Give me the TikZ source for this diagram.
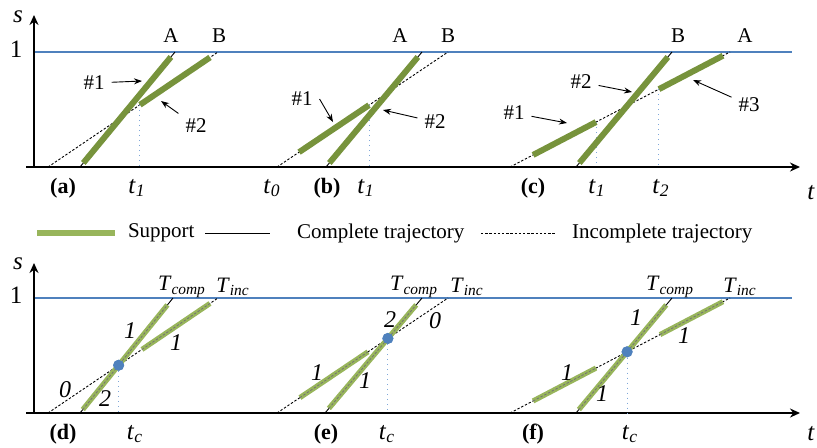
\documentclass[tikz,border=0pt]{standalone}
\usepackage{fontspec}
\setmainfont{Liberation Serif}
\usepackage{xcolor}
\usepackage{tikz}
\usetikzlibrary{arrows.meta, positioning, calc}

\definecolor{olive}{HTML}{77933C}
\definecolor{olivelt}{HTML}{98B55B}
\definecolor{guideblue}{HTML}{4F81BD}
\definecolor{dropblue}{HTML}{7FA7D8}

\newcommand{\tsym}[2]{\textit{#1}\textsubscript{\textit{#2}}}

\begin{document}
\begin{tikzpicture}[x=0.5pt, y=-0.5pt, >=Stealth, font=\fontsize{10.5}{12}\selectfont]
    \tikzset{
        axis/.style={draw, line width=1pt, -{Stealth[length=5pt, width=4.5pt]}},
        guide/.style={draw=guideblue, line width=0.6pt},
        comp/.style={draw, line width=0.45pt},
        incomp/.style={draw, line width=0.45pt, dash pattern=on 1.2pt off 0.9pt},
        support/.style={draw=olive, line width=3pt},
        supportlt/.style={draw=olivelt, line width=2.6pt, postaction={draw=black!55, line width=0.4pt, dash pattern=on 1.2pt off 0.9pt}},
        drop/.style={draw=dropblue, line width=0.5pt, dotted},
        callout/.style={draw, line width=0.45pt, -{Stealth[length=4pt, width=3pt]}},
        cross/.style={circle, fill=guideblue, inner sep=0pt, minimum size=5.5pt},
        tag/.style={font=\fontsize{11}{13}\selectfont\bfseries},
        big/.style={font=\fontsize{12.5}{14}\selectfont},
        num/.style={font=\fontsize{12}{14}\selectfont\itshape},
        traj/.style={font=\fontsize{11}{13}\selectfont}
    }
    \useasboundingbox (0,0) rectangle (817,447);

    % top row: axes and the level s = 1
    \coordinate (o1) at (34,167);
    \coordinate (x1s) at (26,167);
    \coordinate (x1e) at (800,167);
    \coordinate (y1e) at (34,15);
    \coordinate (g1s) at (35,52);
    \coordinate (g1e) at (792,52);
    \draw[guide] (g1s) -- (g1e);
    \draw[axis] (x1s) -- (x1e);
    \draw[axis] (o1) -- (y1e);
    \node[big] (s1) at (18,17) {\textit{s}};
    \node[big] (one1) at (16,49) {1};
    \node[big] (t1) at (811,193) {\textit{t}};

    % (a)
    \coordinate (aA0) at (80,167);  \coordinate (aA1) at (175,52);
    \coordinate (aB0) at (48,167);  \coordinate (aB1) at (218,52);
    \draw[comp] (aA0) -- (aA1);
    \draw[incomp] (aB0) -- (aB1);
    \coordinate (a2s) at ($(aB0)!0.541!(aB1)$);
    \draw[drop] (a2s) -- (a2s |- o1);
    \draw[support] ($(aA0)!0.035!(aA1)$) -- ($(aA0)!0.957!(aA1)$);
    \draw[support] (a2s) -- ($(aB0)!0.953!(aB1)$);
    \node (aA) at (171,36) {A};
    \node (aB) at (219,36) {B};
    \node (a1) at (94,83) {\#1};
    \node (a2) at (196,126) {\#2};
    \coordinate (a1h) at (142,81);
    \coordinate (a2h) at (161,101);
    \draw[callout] (a1) -- (a1h);
    \draw[callout] (a2) -- (a2h);
    \node[tag] (la) at (63,188) {(a)};
    \node[big] (at1) at (137,188) {\tsym{t}{1}};
    \node[big] (at0) at (272,188) {\tsym{t}{0}};

    % (b)
    \coordinate (bA0) at (326,167); \coordinate (bA1) at (422,52);
    \coordinate (bB0) at (277,167); \coordinate (bB1) at (448,52);
    \draw[comp] (bA0) -- (bA1);
    \draw[incomp] (bB0) -- (bB1);
    \coordinate (b1e) at ($(bB0)!0.538!(bB1)$);
    \draw[drop] (b1e) -- (b1e |- o1);
    \draw[support] ($(bA0)!0.035!(bA1)$) -- ($(bA0)!0.957!(bA1)$);
    \draw[support] ($(bB0)!0.129!(bB1)$) -- (b1e);
    \node (bA) at (400,36) {A};
    \node (bB) at (448,36) {B};
    \node (b1) at (302,99) {\#1};
    \node (b2) at (435,122) {\#2};
    \coordinate (b1h) at (333,122);
    \coordinate (b2h) at (383,110);
    \draw[callout] (b1.east) -- (b1h);
    \draw[callout] (b2) -- (b2h);
    \node[tag] (lb) at (327,188) {(b)};
    \node[big] (bt1) at (366,188) {\tsym{t}{1}};

    % (c)
    \coordinate (cB0) at (576,167); \coordinate (cB1) at (672,52);
    \coordinate (cA0) at (510,167); \coordinate (cA1) at (730,52);
    \draw[comp] (cB0) -- (cB1);
    \draw[incomp] (cA0) -- (cA1);
    \coordinate (c1e) at ($(cA0)!0.391!(cA1)$);
    \coordinate (c3s) at ($(cA0)!0.677!(cA1)$);
    \draw[drop] (c1e) -- (c1e |- o1);
    \draw[drop] (c3s) -- (c3s |- o1);
    \draw[support] ($(cB0)!0.035!(cB1)$) -- ($(cB0)!0.957!(cB1)$);
    \draw[support] ($(cA0)!0.105!(cA1)$) -- (c1e);
    \draw[support] (c3s) -- ($(cA0)!0.968!(cA1)$);
    \node (cB) at (678,36) {B};
    \node (cA) at (745,36) {A};
    \node (c1) at (514,113) {\#1};
    \node (c2) at (581,82) {\#2};
    \node (c3) at (749,105) {\#3};
    \coordinate (c1h) at (567,123);
    \coordinate (c2h) at (632,92);
    \coordinate (c3h) at (693,80);
    \draw[callout] (c1) -- (c1h);
    \draw[callout] (c2) -- (c2h);
    \draw[callout] (c3) -- (c3h);
    \node[tag] (lc) at (533,188) {(c)};
    \node[big] (ct1) at (597,188) {\tsym{t}{1}};
    \node[big] (ct2) at (661,188) {\tsym{t}{2}};

    % legend
    \coordinate (l1s) at (37,233);  \coordinate (l1e) at (115,233);
    \coordinate (l2s) at (205,233); \coordinate (l2e) at (270,233);
    \coordinate (l3s) at (481,233); \coordinate (l3e) at (555,233);
    \draw[draw=olivelt, line width=2.6pt] (l1s) -- (l1e);
    \draw[comp] (l2s) -- (l2e);
    \draw[incomp] (l3s) -- (l3e);
    \node[right=3pt of l1e] (lsup) {Support};
    \node[right=10pt of l2e] (lcomp) {Complete trajectory};
    \node[right=5pt of l3e] (linc) {Incomplete trajectory};

    % bottom row: axes and the level s = 1
    \coordinate (o2) at (34,413);
    \coordinate (x2s) at (26,413);
    \coordinate (x2e) at (800,413);
    \coordinate (y2e) at (34,263);
    \coordinate (g2s) at (35,298);
    \coordinate (g2e) at (792,298);
    \draw[guide] (g2s) -- (g2e);
    \draw[axis] (x2s) -- (x2e);
    \draw[axis] (o2) -- (y2e);
    \node[big] (s2) at (18,264) {\textit{s}};
    \node[big] (one2) at (16,295) {1};
    \node[big] (t2) at (811,434) {\textit{t}};

    % (d)
    \coordinate (dC0) at (80,413);  \coordinate (dC1) at (173,298);
    \coordinate (dI0) at (48,413);  \coordinate (dI1) at (218,298);
    \draw[comp] (dC0) -- (dC1);
    \draw[incomp] (dI0) -- (dI1);
    \node[cross] (dX) at (intersection of dC0--dC1 and dI0--dI1) {};
    \draw[drop] (dX) -- (dX |- o2);
    \draw[supportlt] ($(dC0)!0.03!(dC1)$) -- ($(dC0)!0.94!(dC1)$);
    \draw[supportlt] ($(dI0)!0.553!(dI1)$) -- ($(dI0)!0.953!(dI1)$);
    \node[cross] (dXtop) at (dX) {};
    \node[traj] (dTc) at (182,287) {\tsym{T}{comp}};
    \node[traj] (dTi) at (233,287) {\tsym{T}{inc}};
    \node[num] (dn1) at (130,331) {1};
    \node[num] (dn2) at (176,343) {1};
    \node[num] (dn3) at (65,390) {0};
    \node[num] (dn4) at (105,399) {2};
    \node[tag] (ld) at (63,434) {(d)};
    \node[big] (dtc) at (135,434) {\tsym{t}{c}};

    % (e)
    \coordinate (eC0) at (325,413); \coordinate (eC1) at (422,298);
    \coordinate (eI0) at (277,413); \coordinate (eI1) at (448,298);
    \draw[comp] (eC0) -- (eC1);
    \draw[incomp] (eI0) -- (eI1);
    \node[cross] (eX) at (intersection of eC0--eC1 and eI0--eI1) {};
    \draw[drop] (eX) -- (eX |- o2);
    \draw[supportlt] ($(eC0)!0.04!(eC1)$) -- ($(eC0)!0.94!(eC1)$);
    \draw[supportlt] ($(eI0)!0.134!(eI1)$) -- ($(eI0)!0.532!(eI1)$);
    \node[cross] (eXtop) at (eX) {};
    \node[traj] (eTc) at (414,287) {\tsym{T}{comp}};
    \node[traj] (eTi) at (467,287) {\tsym{T}{inc}};
    \node[num] (en1) at (390,320) {2};
    \node[num] (en2) at (435,321) {0};
    \node[num] (en3) at (317,373) {1};
    \node[num] (en4) at (365,381) {1};
    \node[tag] (le) at (326,434) {(e)};
    \node[big] (etc) at (387,434) {\tsym{t}{c}};

    % (f)
    \coordinate (fC0) at (576,413); \coordinate (fC1) at (672,298);
    \coordinate (fI0) at (510,413); \coordinate (fI1) at (730,298);
    \draw[comp] (fC0) -- (fC1);
    \draw[incomp] (fI0) -- (fI1);
    \node[cross] (fX) at (intersection of fC0--fC1 and fI0--fI1) {};
    \draw[drop] (fX) -- (fX |- o2);
    \draw[supportlt] ($(fC0)!0.03!(fC1)$) -- ($(fC0)!0.94!(fC1)$);
    \draw[supportlt] ($(fI0)!0.105!(fI1)$) -- ($(fI0)!0.391!(fI1)$);
    \draw[supportlt] ($(fI0)!0.682!(fI1)$) -- ($(fI0)!0.968!(fI1)$);
    \node[cross] (fXtop) at (fX) {};
    \node[traj] (fTc) at (670,287) {\tsym{T}{comp}};
    \node[traj] (fTi) at (740,287) {\tsym{T}{inc}};
    \node[num] (fn1) at (636,318) {1};
    \node[num] (fn2) at (684,336) {1};
    \node[num] (fn3) at (567,373) {1};
    \node[num] (fn4) at (602,394) {1};
    \node[tag] (lf) at (533,434) {(f)};
    \node[big] (ftc) at (630,434) {\tsym{t}{c}};
\end{tikzpicture}
\end{document}
